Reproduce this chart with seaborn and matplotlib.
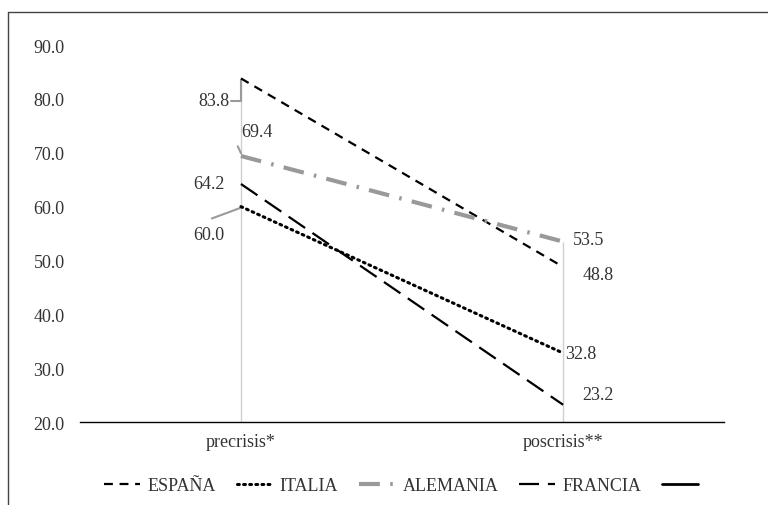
import pandas as pd
import seaborn as sns
import matplotlib.pyplot as plt
from matplotlib.lines import Line2D

# datos
periodos = ["precrisis*", "poscrisis**"]
espana = [83.8, 48.8]
italia = [60.0, 32.8]
alemania = [69.4, 53.5]
francia = [64.2, 23.2]

df = pd.DataFrame({
    "periodo": periodos * 4,
    "valor": espana + italia + alemania + francia,
    "pais": ["ESPAÑA"] * 2 + ["ITALIA"] * 2 + ["ALEMANIA"] * 2 + ["FRANCIA"] * 2,
})

sns.set_style("white")
plt.rcParams["font.family"] = ["Liberation Serif", "DejaVu Serif"]

fig = plt.figure(figsize=(7.68, 5.06), dpi=100)
ax = fig.add_axes([0.104, 0.164, 0.839, 0.745])

estilos = {
    "ESPAÑA": dict(color="black", lw=1.6, dashes=(4, 3)),
    "ITALIA": dict(color="black", lw=2.2, dashes=(0.6, 1.4), dash_capstyle="round"),
    "ALEMANIA": dict(color="#999999", lw=3.0, dashes=(5, 2.5, 0.6, 2.5)),
    "FRANCIA": dict(color="black", lw=1.6, dashes=(9, 4)),
}

# líneas verticales (de cada categoría hasta el valor máximo)
maximos = df.groupby("periodo", sort=False)["valor"].max()
for i, p in enumerate(periodos):
    ax.vlines(i, 20, maximos[p], color="#d0d0d0", lw=1, zorder=1)

for pais, st in estilos.items():
    sub = df[df["pais"] == pais]
    sns.lineplot(data=sub, x="periodo", y="valor", ax=ax, sort=False, zorder=3, **st)

ax.set_xlim(-0.5, 1.5)
ax.set_ylim(20, 90)
ax.set_yticks(range(20, 91, 10))
ax.set_yticklabels([f"{v:.1f}" for v in range(20, 91, 10)])
ax.set_xlabel("")
ax.set_ylabel("")
ax.tick_params(axis="both", labelsize=13, colors="#333333", length=0, pad=11)
ax.tick_params(axis="x", pad=8)
for s in ["top", "right", "left"]:
    ax.spines[s].set_visible(False)
ax.spines["bottom"].set_color("black")
ax.spines["bottom"].set_linewidth(1)

# etiquetas de datos
gris = "#9a9a9a"
kw = dict(fontsize=13, color="#333333", va="center")
ax.text(-0.035, 79.7, "83.8", ha="right", **kw)
ax.plot([-0.03, 0, 0], [79.7, 79.7, 83.6], color=gris, lw=1.5, zorder=2)
ax.text(0.05, 74.0, "69.4", ha="center", **kw)
ax.plot([-0.01, 0.0], [71.2, 69.9], color=gris, lw=1.5, zorder=2)
ax.text(-0.05, 64.3, "64.2", ha="right", **kw)
ax.text(-0.05, 54.8, "60.0", ha="right", **kw)
ax.plot([-0.09, 0], [57.8, 59.8], color=gris, lw=1.5, zorder=2)
ax.text(1.03, 53.8, "53.5", ha="left", **kw)
ax.text(1.06, 47.4, "48.8", ha="left", **kw)
ax.text(1.005, 32.8, "32.8", ha="left", **kw)
ax.text(1.06, 25.2, "23.2", ha="left", **kw)

# leyenda
handles = [Line2D([], [], **estilos[p]) for p in estilos]
handles.append(Line2D([], [], color="black", lw=2))
labels = list(estilos.keys()) + [""]
fig.legend(handles, labels, loc="center", bbox_to_anchor=(0.527, 0.038), ncol=5,
           frameon=False, fontsize=13, handlelength=2.0, columnspacing=1.15,
           handletextpad=0.4, labelcolor="#333333")

# marco de la figura
fig.add_artist(Line2D([8 / 768, 1], [1 - 13 / 506] * 2, color="#444444", lw=1, transform=fig.transFigure))
fig.add_artist(Line2D([8 / 768] * 2, [0, 1 - 13 / 506], color="#444444", lw=1, transform=fig.transFigure))

fig.savefig("out.png", dpi=100)
